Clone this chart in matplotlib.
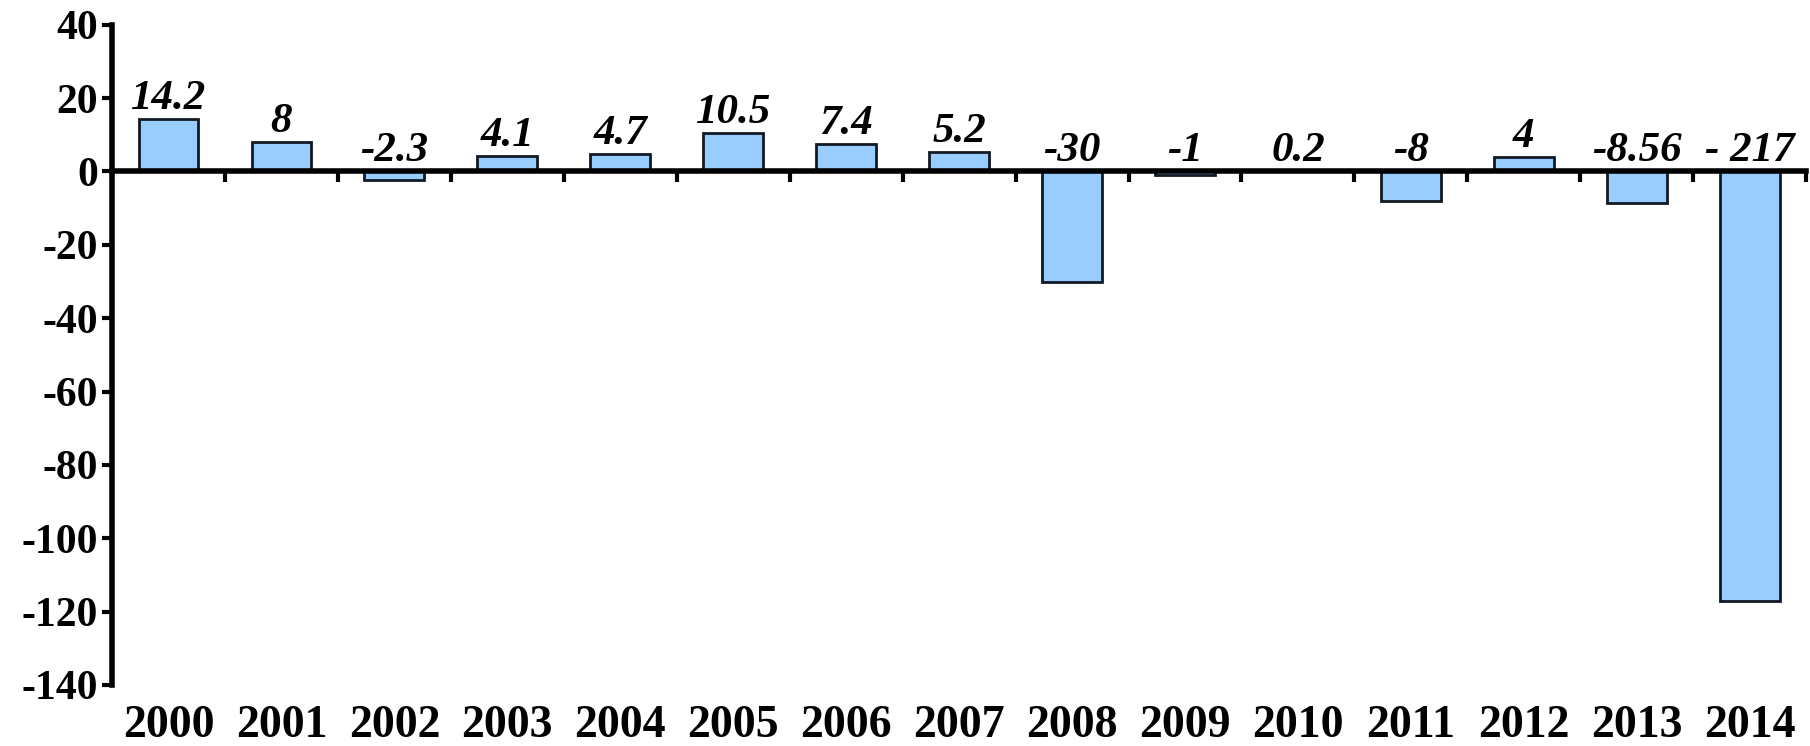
import matplotlib
matplotlib.use("Agg")
import matplotlib.pyplot as plt
import matplotlib.transforms as mtransforms
import numpy as np

years = ['2000', '2001', '2002', '2003', '2004', '2005', '2006', '2007',
         '2008', '2009', '2010', '2011', '2012', '2013', '2014']
values = [14.2, 8, -2.3, 4.1, 4.7, 10.5, 7.4, 5.2, -30, -1, 0.2, -8, 4, -8.56, -117]
value_labels = ['14.2', '8', '-2.3', '4.1', '4.7', '10.5', '7.4', '5.2',
                '-30', '-1', '0.2', '-8', '4', '-8.56', '- 217']
yticks = [40, 20, 0, -20, -40, -60, -80, -100, -120, -140]

plt.rcParams['font.family'] = ['Liberation Serif', 'DejaVu Serif']

fig = plt.figure(figsize=(18.1, 7.46), dpi=100)
ax = fig.add_axes([0.0619, 0.0818, 0.936, 0.885])

x = np.arange(len(years))
ax.bar(x, values, width=0.53, color='#99CCFF', edgecolor='#111a24', linewidth=2, zorder=2)

ax.set_xlim(-0.5, len(years) - 0.5)
ax.set_ylim(-140, 40)
ax.set_yticks(yticks)
ax.set_yticklabels([str(t) for t in yticks], fontsize=30, fontweight='bold')
ax.tick_params(axis='y', direction='out', length=7, width=3, pad=3)

# x axis sits at zero, ticks between categories
ax.spines['bottom'].set_position(('data', 0))
ax.spines['bottom'].set_linewidth(4)
ax.spines['left'].set_linewidth(4)
ax.spines['top'].set_visible(False)
ax.spines['right'].set_visible(False)
ax.set_xticks(np.arange(-0.5, len(years), 1.0))
ax.set_xticklabels([])
ax.tick_params(axis='x', direction='out', length=8, width=3)

trans = mtransforms.blended_transform_factory(ax.transData, ax.transAxes)
for xi, yr in zip(x, years):
    ax.text(xi, -0.062, yr, transform=trans, ha='center', va='center',
            fontsize=33, fontweight='bold')

# value labels
off = mtransforms.offset_copy(ax.transData, fig=fig, x=0, y=10, units='dots')
for xi, v, lab in zip(x, values, value_labels):
    ax.text(xi, max(v, 0), lab, transform=off, ha='center', va='baseline',
            fontsize=31, fontweight='bold', fontstyle='italic')

fig.savefig('out.png', dpi=100)
